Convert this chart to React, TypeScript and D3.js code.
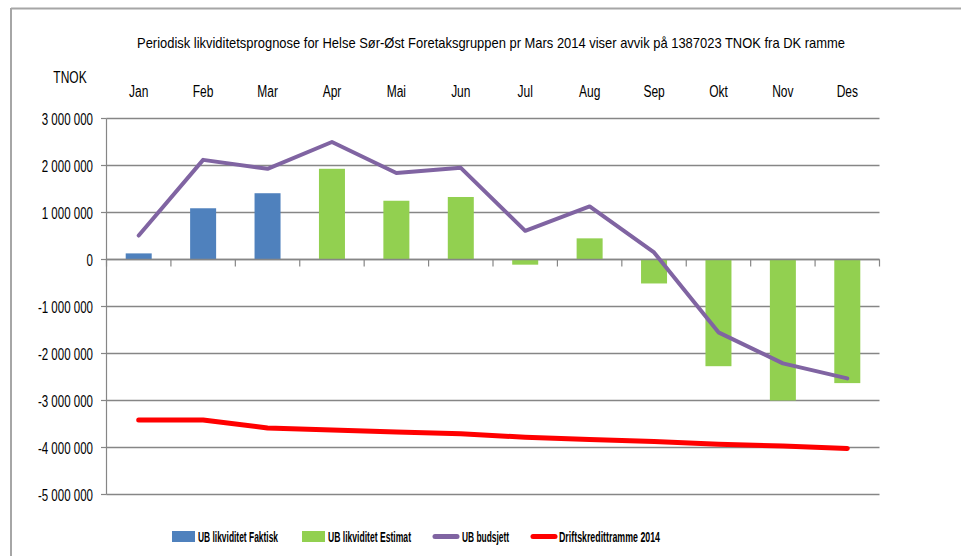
import React from "react";
import * as d3 from "d3";

const months = ["Jan", "Feb", "Mar", "Apr", "Mai", "Jun", "Jul", "Aug", "Sep", "Okt", "Nov", "Des"];
const faktisk: (number | null)[] = [130000, 1090000, 1410000, null, null, null, null, null, null, null, null, null];
const estimat: (number | null)[] = [null, null, null, 1930000, 1250000, 1330000, -110000, 450000, -510000, -2270000, -3000000, -2630000];
const budsjett = [510000, 2120000, 1930000, 2500000, 1840000, 1950000, 610000, 1130000, 150000, -1550000, -2210000, -2530000];
const driftskreditt = [-3415000, -3415000, -3585000, -3630000, -3670000, -3710000, -3780000, -3830000, -3870000, -3930000, -3970000, -4020000];
const yTicks = [3000000, 2000000, 1000000, 0, -1000000, -2000000, -3000000, -4000000, -5000000];

const title = "Periodisk likviditetsprognose  for Helse Sør-Øst Foretaksgruppen pr Mars 2014 viser avvik på 1387023 TNOK fra DK ramme";

const FONT = "'Liberation Sans', Arial, sans-serif";

function fmt(v: number): string {
  const s = Math.abs(v).toString().replace(/\B(?=(\d{3})+(?!\d))/g, " ");
  return (v < 0 ? "-" : "") + s;
}

function NText(props: { x: number; y: number; anchor?: string; size?: number; sx?: number; weight?: string; children: React.ReactNode }) {
  const { x, y, anchor = "start", size = 16, sx = 0.75, weight = "normal", children } = props;
  return (
    <text
      transform={`translate(${x},${y}) scale(${sx},1)`}
      textAnchor={anchor}
      fontSize={size}
      fontWeight={weight}
      fill="#000"
    >
      {children}
    </text>
  );
}

export default function App() {
  const W = 961, H = 556;
  const x0 = 106.5, x1 = 879.5;
  const y = d3.scaleLinear().domain([-5000000, 3000000]).range([494.5, 118.5]);
  const x = d3.scaleBand<string>().domain(months).range([x0, x1]).paddingInner(0).paddingOuter(0);
  const bw = 26;
  const cx = (m: string) => (x(m) as number) + x.bandwidth() / 2;
  const line = d3.line<number>().x((_, i) => cx(months[i])).y((d) => y(d));

  const bars = (vals: (number | null)[], color: string) =>
    vals.map((v, i) =>
      v == null ? null : (
        <rect
          key={i}
          x={cx(months[i]) - bw / 2}
          y={Math.min(y(v), y(0))}
          width={bw}
          height={Math.abs(y(v) - y(0))}
          fill={color}
        />
      )
    );

  const legend = [
    { label: "UB likviditet Faktisk", kind: "rect", color: "#4F81BD", sx: 172, tx: 198, tw: 80 },
    { label: "UB likviditet Estimat", kind: "rect", color: "#92D050", sx: 302, tx: 328, tw: 83 },
    { label: "UB budsjett", kind: "line", color: "#8064A2", sx: 433, tx: 462, tw: 47 },
    { label: "Driftskredittramme 2014", kind: "line", color: "#FF0000", sx: 531, tx: 559, tw: 101 },
  ];

  return (
    <svg width={W} height={H} style={{ position: "absolute", left: 0, top: 0 }} fontFamily={FONT}>
      <rect x={0} y={0} width={W} height={H} fill="#fff" />
      <line x1={11} y1={8.5} x2={W} y2={8.5} stroke="#A6A6A6" strokeWidth={2} />
      <line x1={11} y1={8} x2={11} y2={H} stroke="#A6A6A6" strokeWidth={2} />

      <text x={491} y={48} textAnchor="middle" fontSize={15} fill="#000" textLength={708} lengthAdjust="spacingAndGlyphs">
        {title}
      </text>
      <NText x={70} y={83} anchor="middle">TNOK</NText>
      {months.map((m) => (
        <NText key={m} x={cx(m)} y={97} anchor="middle">{m}</NText>
      ))}

      {yTicks.map((t) => (
        <g key={t}>
          <line x1={x0} x2={x1} y1={y(t)} y2={y(t)} stroke="#868686" strokeWidth={1.6} />
          <line x1={101} x2={x0} y1={y(t)} y2={y(t)} stroke="#868686" strokeWidth={1.2} />
          <NText x={93} y={y(t) + 6} anchor="end" sx={0.72}>{fmt(t)}</NText>
        </g>
      ))}
      <line x1={x0} x2={x0} y1={y(3000000)} y2={y(-5000000)} stroke="#868686" strokeWidth={1.2} />

      {bars(faktisk, "#4F81BD")}
      {bars(estimat, "#92D050")}

      <line x1={x0} x2={x1} y1={y(0)} y2={y(0)} stroke="#868686" strokeWidth={1.6} />
      {d3.range(13).map((i) => {
        const xx = x0 + i * x.step();
        return <line key={i} x1={xx} x2={xx} y1={y(0)} y2={y(0) + 7} stroke="#868686" strokeWidth={1.2} />;
      })}

      <path d={line(budsjett) || ""} fill="none" stroke="#8064A2" strokeWidth={4} strokeLinejoin="round" strokeLinecap="round" />
      <path d={line(driftskreditt) || ""} fill="none" stroke="#FF0000" strokeWidth={5} strokeLinejoin="round" strokeLinecap="round" />

      {legend.map((l) => (
        <g key={l.label}>
          {l.kind === "rect" ? (
            <rect x={l.sx} y={531} width={23} height={11} fill={l.color} />
          ) : (
            <line x1={l.sx + 2} x2={l.sx + 24} y1={536.5} y2={536.5} stroke={l.color} strokeWidth={5} strokeLinecap="round" />
          )}
          <text x={l.tx} y={542} fontSize={14} fontWeight="bold" fill="#000" textLength={l.tw} lengthAdjust="spacingAndGlyphs">
            {l.label}
          </text>
        </g>
      ))}
    </svg>
  );
}
